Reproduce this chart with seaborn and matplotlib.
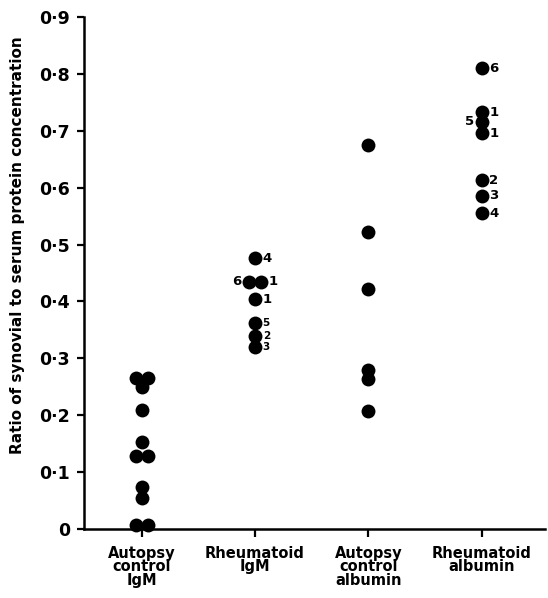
import numpy as np
import pandas as pd
import matplotlib
matplotlib.use("Agg")
import matplotlib.pyplot as plt
import seaborn as sns

# categories along the x axis
groups = ["Autopsy\ncontrol\nIgM", "Rheumatoid\nIgM",
          "Autopsy\ncontrol\nalbumin", "Rheumatoid\nalbumin"]

# ratio of synovial to serum protein concentration
autopsy_igm = [0.265, 0.265, 0.25, 0.21, 0.153, 0.128, 0.128, 0.074, 0.054, 0.007, 0.007]
rheum_igm = [0.476, 0.435, 0.435, 0.404, 0.362, 0.340, 0.320]
autopsy_alb = [0.675, 0.522, 0.422, 0.280, 0.263, 0.207]
rheum_alb = [0.810, 0.733, 0.716, 0.696, 0.613, 0.586, 0.555]

# patient numbers printed next to the rheumatoid points
rheum_igm_labels = ["4", "6", "1", "1", "5", "2", "3"]
rheum_alb_labels = ["6", "1", "5", "1", "2", "3", "4"]
rheum_igm_sides = ["r", "l", "r", "r", "r", "r", "r"]
rheum_alb_sides = ["r", "r", "l", "r", "r", "r", "r"]

y_ticks = [0.0, 0.1, 0.2, 0.3, 0.4, 0.5, 0.6, 0.7, 0.8, 0.9]
y_ticklabels = ["0", "0·1", "0·2", "0·3", "0·4", "0·5", "0·6", "0·7", "0·8", "0·9"]

# build a long table
values = [autopsy_igm, rheum_igm, autopsy_alb, rheum_alb]
labels = [[""] * len(autopsy_igm), rheum_igm_labels, [""] * len(autopsy_alb), rheum_alb_labels]
sides = [["r"] * len(autopsy_igm), rheum_igm_sides, ["r"] * len(autopsy_alb), rheum_alb_sides]
rows = []
for i, g in enumerate(groups):
    for v, lab, sd in zip(values[i], labels[i], sides[i]):
        rows.append({"group": g, "code": i, "ratio": v, "label": lab, "side": sd})
df = pd.DataFrame(rows)

# tied values sit side by side, centred on the category
spacing = 0.103
df["slot"] = df.groupby(["code", "ratio"]).cumcount()
df["n"] = df.groupby(["code", "ratio"])["ratio"].transform("size")
df["pos"] = df["code"] + (df["slot"] - (df["n"] - 1) / 2) * spacing

# labels crowded on the same side get a smaller font, as in the original
lab = df[df["label"] != ""].copy()
def crowded(r):
    same = lab[(lab["code"] == r["code"]) & (lab["side"] == r["side"]) & (lab.index != r.name)]
    return (np.abs(same["ratio"] - r["ratio"]) < 0.025).any()
lab["fs"] = [7.5 if crowded(r) else 9.5 for _, r in lab.iterrows()]

sns.set_style("ticks")
plt.rcParams["font.family"] = ["DejaVu Sans"]
plt.rcParams["font.weight"] = "bold"
plt.rcParams["text.color"] = "black"
plt.rcParams["xtick.color"] = "black"
plt.rcParams["ytick.color"] = "black"
plt.rcParams["axes.labelcolor"] = "black"

fig = plt.figure(figsize=(5.48, 5.98), dpi=100)
ax = fig.add_axes([84 / 548, 69 / 598, 461 / 548, 512 / 598])

sns.scatterplot(data=df, x="pos", y="ratio", color="black", s=100,
                linewidth=0, ax=ax, clip_on=False, zorder=3)

for _, r in lab.iterrows():
    dx = 5.5 if r["side"] == "r" else -5.5
    ax.annotate(r["label"], (r["pos"], r["ratio"]), xytext=(dx, 0),
                textcoords="offset points", ha="left" if dx > 0 else "right",
                va="center", fontsize=r["fs"], fontweight="bold", color="black")

ax.set_xlim(-0.51, 3.56)
ax.set_ylim(0, 0.9)
ax.set_xticks(range(len(groups)))
ax.set_xticklabels(groups, fontsize=10.5, fontweight="bold", linespacing=0.9)
ax.set_yticks(y_ticks)
ax.set_yticklabels(y_ticklabels, fontsize=12.5, fontweight="bold")
ax.tick_params(axis="x", length=6, width=1.6, pad=6, colors="black")
ax.tick_params(axis="y", length=5, width=1.6, pad=5, colors="black")

ax.set_xlabel("")
ax.set_ylabel("Ratio of synovial to serum protein concentration",
              fontsize=11, fontweight="bold", color="black")
ax.yaxis.set_label_coords(-0.128, 0.555)

sns.despine(ax=ax)
for s in ["left", "bottom"]:
    ax.spines[s].set_linewidth(1.8)
    ax.spines[s].set_color("black")

fig.savefig("out.png", dpi=100)
